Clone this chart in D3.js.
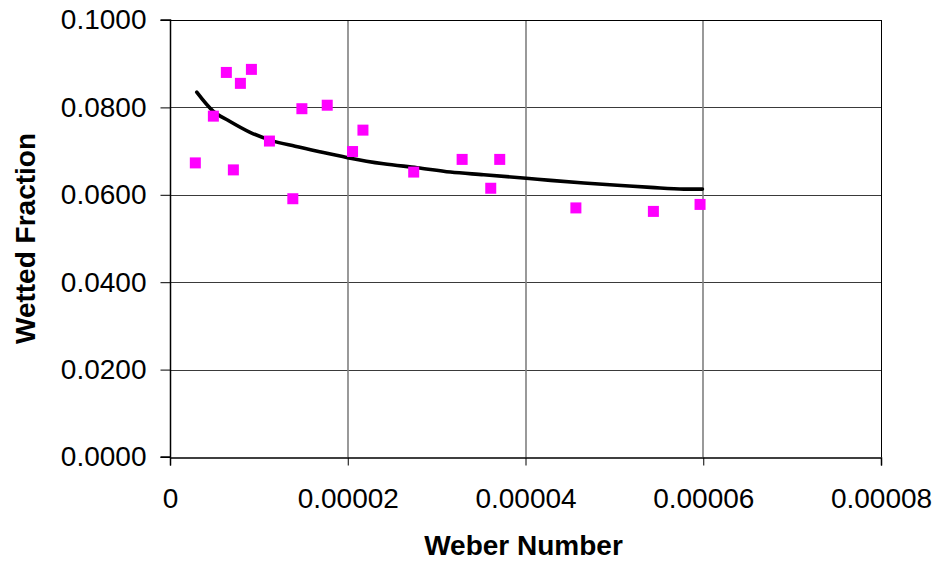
<!DOCTYPE html>
<html>
<head>
<meta charset="utf-8">
<script src="https://cdn.jsdelivr.net/npm/d3@7"></script>
<style>
  html, body { margin: 0; padding: 0; background: #fff; }
  svg { display: block; font-family: "Liberation Sans", Arial, sans-serif; }
</style>
</head>
<body>
<svg id="chart" width="937" height="562"></svg>
<script>
// Measured data (Weber number, wetted fraction)
const pointWeber = [2.85e-6, 4.88e-6, 6.34e-6, 7.13e-6, 7.92e-6, 9.16e-6, 11.19e-6, 13.82e-6, 14.84e-6, 17.69e-6,
                    20.54e-6, 21.71e-6, 27.42e-6, 32.87e-6, 36.09e-6, 37.10e-6, 45.67e-6, 54.39e-6, 59.64e-6];
const pointWetted = [0.0673, 0.0780, 0.0880, 0.0657, 0.0855, 0.0887, 0.0723, 0.0591, 0.0797, 0.0805,
                     0.0699, 0.0748, 0.0652, 0.0681, 0.0615, 0.0681, 0.0570, 0.0562, 0.0578];

// Trend curve
const curveWeber = [3.01e-6, 4.88e-6, 6.57e-6, 9.01e-6, 11.46e-6, 14.08e-6, 16.71e-6, 19.98e-6, 24.03e-6, 27.80e-6,
                    31.55e-6, 35.30e-6, 40.08e-6, 42.82e-6, 46.57e-6, 50.33e-6, 54.08e-6, 57.84e-6, 59.91e-6];
const curveWetted = [0.0835, 0.0791, 0.0770, 0.0743, 0.0724, 0.0711, 0.0699, 0.0685, 0.0671, 0.0662,
                     0.0652, 0.0646, 0.0638, 0.0633, 0.0627, 0.0622, 0.0617, 0.0613, 0.0613];

const xTicks = [0, 0.00002, 0.00004, 0.00006, 0.00008];
const xTickLabels = ["0", "0.00002", "0.00004", "0.00006", "0.00008"];
const yTicks = [0, 0.02, 0.04, 0.06, 0.08, 0.1];
const yTickLabels = ["0.0000", "0.0200", "0.0400", "0.0600", "0.0800", "0.1000"];
const xTitle = "Weber Number";
const yTitle = "Wetted Fraction";

const svg = d3.select("#chart");
const mLeft = 170, mRight = 881, mTop = 20, mBottom = 457;

const x = d3.scaleLinear().domain([0, 0.00008]).range([mLeft, mRight]);
const y = d3.scaleLinear().domain([0, 0.1]).range([mBottom, mTop]);

// Gridlines
svg.append("g").selectAll("line").data(yTicks.slice(1, -1)).join("line")
  .attr("x1", mLeft).attr("x2", mRight)
  .attr("y1", d => Math.round(y(d)) + 0.5).attr("y2", d => Math.round(y(d)) + 0.5)
  .attr("stroke", "#3a3a3a").attr("stroke-width", 1);
svg.append("g").selectAll("line").data(xTicks.slice(1, -1)).join("line")
  .attr("y1", mTop).attr("y2", mBottom)
  .attr("x1", d => Math.round(x(d))).attr("x2", d => Math.round(x(d)))
  .attr("stroke", "#808080").attr("stroke-width", 1.6);

// Plot border (top and right)
svg.append("line").attr("x1", mLeft).attr("x2", mRight).attr("y1", mTop + 0.5).attr("y2", mTop + 0.5)
  .attr("stroke", "#000").attr("stroke-width", 1);
svg.append("line").attr("x1", mRight + 0.5).attr("x2", mRight + 0.5).attr("y1", mTop).attr("y2", mBottom)
  .attr("stroke", "#000").attr("stroke-width", 1);

// Axes
const yAxis = d3.axisLeft(y).tickValues(yTicks).tickFormat((d, i) => yTickLabels[i])
  .tickSize(10).tickPadding(14);
const gy = svg.append("g").attr("transform", `translate(${mLeft + 0.5},0)`).call(yAxis);

const xAxis = d3.axisBottom(x).tickValues(xTicks).tickFormat((d, i) => xTickLabels[i])
  .tickSize(8).tickPadding(23);
const gx = svg.append("g").attr("transform", `translate(0,${mBottom + 0.5})`).call(xAxis);

[gx, gy].forEach(g => {
  g.select(".domain").attr("stroke", "#000").attr("stroke-width", 1.5);
  g.selectAll(".tick line").attr("stroke", "#000").attr("stroke-width", 1);
  g.selectAll(".tick text").attr("fill", "#000")
    .style("font-family", '"Liberation Sans", Arial, sans-serif').style("font-size", "28px");
});
gy.select(".domain").attr("d", `M-10,${mTop}H0V${mBottom}H-10`);

// Curve
const line = d3.line().x((d, i) => x(curveWeber[i])).y((d, i) => y(curveWetted[i])).curve(d3.curveMonotoneX);
svg.append("path").datum(curveWeber).attr("d", line)
  .attr("fill", "none").attr("stroke", "#000").attr("stroke-width", 3.6)
  .attr("stroke-linejoin", "round").attr("stroke-linecap", "round");

// Points
const size = 11;
svg.append("g").selectAll("rect").data(pointWeber).join("rect")
  .attr("x", (d, i) => x(d) - size / 2)
  .attr("y", (d, i) => y(pointWetted[i]) - size / 2)
  .attr("width", size).attr("height", size)
  .attr("fill", "#FF00FF");

// Titles
svg.append("text").attr("x", (mLeft + mRight) / 2 - 2).attr("y", 555)
  .attr("text-anchor", "middle").attr("font-weight", "bold").attr("font-size", 28)
  .text(xTitle);
svg.append("text").attr("transform", `translate(35,${(mTop + mBottom) / 2}) rotate(-90)`)
  .attr("text-anchor", "middle").attr("font-weight", "bold").attr("font-size", 28)
  .text(yTitle);
</script>
</body>
</html>
